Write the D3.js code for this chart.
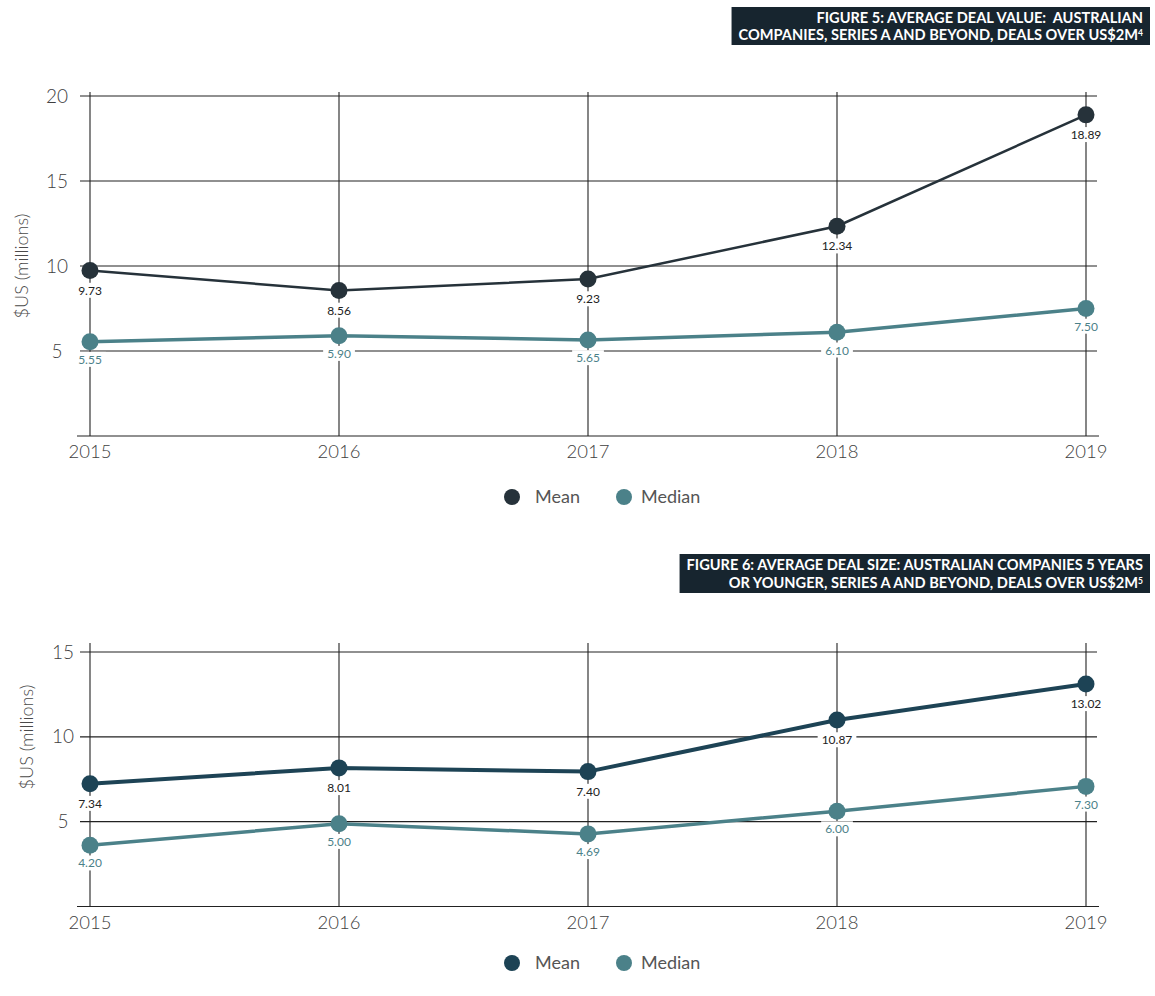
<!DOCTYPE html>
<html>
<head>
<meta charset="utf-8">
<script src="https://cdn.jsdelivr.net/npm/d3@7/dist/d3.min.js"></script>
<style>
    body { margin: 0; background: #fff; }
    svg { display: block; font-family: Lato, "Open Sans", sans-serif; }
</style>
</head>
<body>
<svg id="chart" width="1155" height="996"></svg>
<script>
// --- Data ---
const years = ["2015", "2016", "2017", "2018", "2019"];

// Figure 5
const fig5Mean = [9.73, 8.56, 9.23, 12.34, 18.89];
const fig5Median = [5.55, 5.90, 5.65, 6.10, 7.50];
const fig5MeanLabels = ["9.73", "8.56", "9.23", "12.34", "18.89"];
const fig5MedianLabels = ["5.55", "5.90", "5.65", "6.10", "7.50"];
const fig5Ticks = [5, 10, 15, 20];
const fig5Title = ["FIGURE 5: AVERAGE DEAL VALUE:  AUSTRALIAN", "COMPANIES, SERIES A AND BEYOND, DEALS OVER US$2M"];

// Figure 6 (points as drawn in the source, labels as printed)
const fig6Mean = [7.24, 8.17, 7.95, 10.99, 13.12];
const fig6Median = [3.61, 4.88, 4.28, 5.62, 7.08];
const fig6MeanLabels = ["7.34", "8.01", "7.40", "10.87", "13.02"];
const fig6MedianLabels = ["4.20", "5.00", "4.69", "6.00", "7.30"];
const fig6Ticks = [5, 10, 15];
const fig6Title = ["FIGURE 6: AVERAGE DEAL SIZE: AUSTRALIAN COMPANIES 5 YEARS", "OR YOUNGER, SERIES A AND BEYOND, DEALS OVER US$2M"];

const legendNames = ["Mean", "Median"];

const svg = d3.select("#chart");
const gridColor = "#222";
const axisText = "#3f3f3f";
const medianColor = "#4b8189";

function drawTitle(lines, sup, right, top, lineGap) {
    const g = svg.append("g");
    const txt = g.append("text")
        .attr("text-anchor", "end")
        .style("font-size", "14.6px")
        .style("font-weight", "700")
        .style("fill", "#fff")
        .style("white-space", "pre");

    lines.forEach((l, i) => {
        txt.append("tspan")
            .attr("x", right)
            .attr("y", top + i * lineGap)
            .text(l);
        if (i === lines.length - 1) {
            // superscript footnote marker
            txt.append("tspan").attr("dy", -4).style("font-size", "8.5px").text(sup);
        }
    });

    const bb = txt.node().getBBox();
    g.insert("rect", "text")
        .attr("x", bb.x - 7)
        .attr("y", bb.y - 2)
        .attr("width", 1150 - (bb.x - 7))
        .attr("height", bb.height + 4)
        .style("fill", "#17252f");
}

function drawChart(o) {
    const g = svg.append("g");

    const x = d3.scalePoint().domain(years).range([90, 1086]);
    const y = d3.scaleLinear().domain([0, o.yMax]).range([o.bottom, o.top]);

    // Horizontal grid
    g.selectAll(".hgrid")
        .data(o.ticks)
        .enter().append("line")
        .attr("x1", 80).attr("x2", 1097)
        .attr("y1", d => y(d)).attr("y2", d => y(d))
        .style("stroke", gridColor).style("stroke-width", 1.1);

    // Baseline
    g.append("line")
        .attr("x1", 77).attr("x2", 1099)
        .attr("y1", y(0)).attr("y2", y(0))
        .style("stroke", gridColor).style("stroke-width", 1.1);

    // Vertical grid
    g.selectAll(".vgrid")
        .data(years)
        .enter().append("line")
        .attr("x1", d => x(d)).attr("x2", d => x(d))
        .attr("y1", o.top - o.vExt).attr("y2", y(0))
        .style("stroke", gridColor).style("stroke-width", 1.1);

    // Y tick labels
    g.selectAll(".ytick")
        .data(o.ticks)
        .enter().append("text")
        .attr("x", o.yTickX)
        .attr("y", d => y(d))
        .attr("dy", "0.35em")
        .attr("text-anchor", "middle")
        .style("font-size", "19px")
        .style("font-weight", "300")
        .style("fill", axisText)
        .text(d => d);

    // X tick labels
    g.selectAll(".xtick")
        .data(years)
        .enter().append("text")
        .attr("x", d => x(d))
        .attr("y", y(0) + 16)
        .attr("dy", "0.35em")
        .attr("text-anchor", "middle")
        .style("font-size", "18.5px")
        .style("font-weight", "300")
        .style("fill", axisText)
        .text(d => d);

    // Y axis title
    g.append("text")
        .attr("transform", `translate(${o.yTitleX},${o.yTitleY}) rotate(-90)`)
        .attr("dy", "0.35em")
        .attr("text-anchor", "middle")
        .style("font-size", "18px")
        .style("font-weight", "300")
        .style("fill", "#4a4a4a")
        .text("$US (millions)");

    const series = [
        { vals: o.mean, labels: o.meanLabels, color: o.meanColor, width: o.meanWidth, labelColor: "#222", off: 20 },
        { vals: o.median, labels: o.medianLabels, color: medianColor, width: 3.5, labelColor: medianColor, off: 18 }
    ];

    const line = d3.line()
        .x((d, i) => x(years[i]))
        .y(d => y(d));

    series.forEach(s => {
        g.append("path")
            .datum(s.vals)
            .attr("d", line)
            .style("fill", "none")
            .style("stroke", s.color)
            .style("stroke-width", s.width);

        g.selectAll(null)
            .data(s.vals)
            .enter().append("circle")
            .attr("cx", (d, i) => x(years[i]))
            .attr("cy", d => y(d))
            .attr("r", 8.5)
            .style("fill", s.color);
    });

    // Value labels with white backing
    series.forEach(s => {
        const lab = g.selectAll(null)
            .data(s.vals)
            .enter().append("g");

        lab.append("text")
            .attr("x", (d, i) => x(years[i]))
            .attr("y", d => y(d) + s.off)
            .attr("dy", "0.35em")
            .attr("text-anchor", "middle")
            .style("font-size", "12px")
            .style("fill", s.labelColor)
            .text((d, i) => s.labels[i])
            .each(function () {
                const bb = this.getBBox();
                d3.select(this.parentNode).insert("rect", "text")
                    .attr("x", bb.x - 4)
                    .attr("y", bb.y)
                    .attr("width", bb.width + 8)
                    .attr("height", bb.height)
                    .style("fill", "#fff");
            });
    });

    // Legend
    const leg = g.append("g");
    const legX = [512, 624];
    legendNames.forEach((n, i) => {
        leg.append("circle")
            .attr("cx", legX[i]).attr("cy", o.legendY)
            .attr("r", 8)
            .style("fill", i === 0 ? o.meanColor : medianColor);
        leg.append("text")
            .attr("x", legX[i] + (i === 0 ? 23 : 17))
            .attr("y", o.legendY)
            .attr("dy", "0.35em")
            .style("font-size", "18px")
            .style("font-weight", "400")
            .style("fill", "#555")
            .text(n);
    });
}

drawTitle(fig5Title, "4", 1143, 23, 17);
drawTitle(fig6Title, "5", 1143, 570, 18);

drawChart({
    top: 96, bottom: 436, yMax: 20, vExt: 4,
    ticks: fig5Ticks, yTickX: 57, yTitleX: 22, yTitleY: 266,
    mean: fig5Mean, median: fig5Median,
    meanLabels: fig5MeanLabels, medianLabels: fig5MedianLabels,
    meanColor: "#26323a", meanWidth: 2.5,
    legendY: 497
});

drawChart({
    top: 652, bottom: 906.5, yMax: 15, vExt: 9,
    ticks: fig6Ticks, yTickX: 63, yTitleX: 27, yTitleY: 737,
    mean: fig6Mean, median: fig6Median,
    meanLabels: fig6MeanLabels, medianLabels: fig6MedianLabels,
    meanColor: "#1d4355", meanWidth: 4,
    legendY: 963
});
</script>
</body>
</html>
